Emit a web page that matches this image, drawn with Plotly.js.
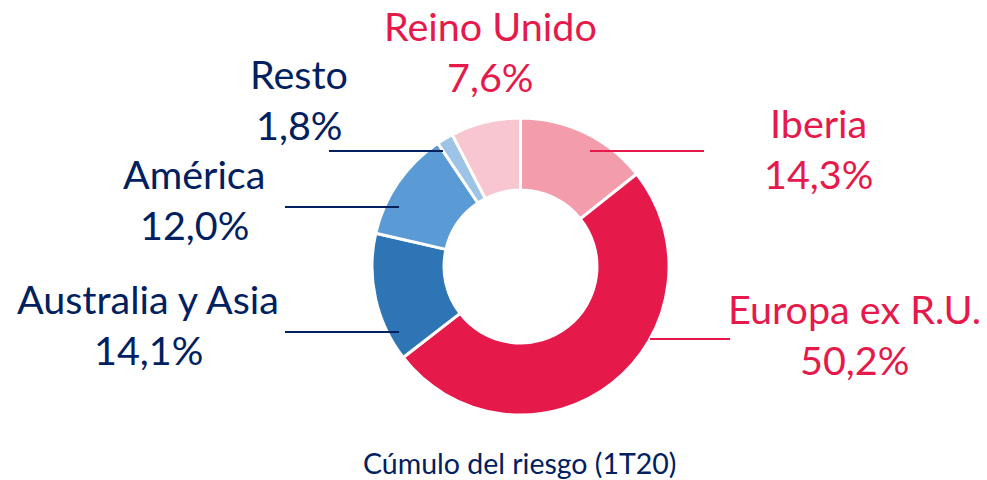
<!DOCTYPE html>
<html>
<head>
<meta charset="utf-8">
<script src="https://cdn.plot.ly/plotly-3.0.1.min.js"></script>
<style>html,body{margin:0;padding:0;background:#fff;}#chart{width:987px;height:480px;}</style>
</head>
<body>
<div id="chart"></div>
<script>
// Data
const categories = ["Iberia", "Europa ex R.U.", "Australia y Asia", "América", "Resto", "Reino Unido"];
const values = [14.3, 50.2, 14.1, 12.0, 1.8, 7.6];
const sliceColors = ["#F29CAC", "#E6194B", "#2E75B6", "#5B9BD5", "#9DC3E6", "#F8C6D1"];
const chartTitle = "Cúmulo del riesgo (1T20)";

// Label styling / placement (pixels in the 987x480 canvas)
const RED = "#E6194B", NAVY = "#002060";
const labelColors = [RED, RED, NAVY, NAVY, NAVY, RED];
const labelPos = [ // [centerX, baseline of first line]
  [818, 137], [854, 323], [148, 313], [194, 188], [299, 88], [490, 40]
];
const leaderLines = [ // [x0, x1, y]
  [590, 704, 151], [650, 730, 339], [285, 399, 332], [285, 399, 207], [329, 443, 151], null
];

const W = 987, H = 480;
const px = x => x / W, py = y => 1 - y / H;
const FS = 39.5, LINE = 50.5, TFS = 28.5;

const fmt = v => v.toFixed(1).replace(".", ",") + "%";

const annotations = [];
categories.forEach((c, i) => {
  const [cx, by] = labelPos[i];
  [c, fmt(values[i])].forEach((t, k) => {
    annotations.push({
      xref: "paper", yref: "paper",
      x: px(cx), y: py(by + k * LINE - 0.36 * FS),
      xanchor: "center", yanchor: "middle",
      text: t, showarrow: false,
      font: {family: "Lato, sans-serif", size: FS, color: labelColors[i]}
    });
  });
});
annotations.push({
  xref: "paper", yref: "paper", x: px(519), y: py(473 - 0.36 * TFS),
  xanchor: "center", yanchor: "middle", text: chartTitle, showarrow: false,
  font: {family: "Lato, sans-serif", size: TFS, color: NAVY}
});

const shapes = [];
leaderLines.forEach((l, i) => {
  if (!l) return;
  shapes.push({
    type: "line", xref: "paper", yref: "paper",
    x0: px(l[0]), x1: px(l[1]), y0: py(l[2]), y1: py(l[2]),
    line: {color: labelColors[i], width: 1.8}, layer: "above"
  });
});

const cx = 520.5, cy = 266.5, R = 148.5;
const trace = {
  type: "pie",
  labels: categories,
  values: values,
  marker: {colors: sliceColors, line: {color: "#ffffff", width: 3}},
  hole: 0.515,
  sort: false,
  direction: "clockwise",
  rotation: 0,
  textinfo: "none",
  hoverinfo: "label+percent",
  domain: {x: [px(cx - 200), px(cx + 200)], y: [py(cy + R), py(cy - R)]}
};

const layout = {
  width: W, height: H,
  margin: {l: 0, r: 0, t: 0, b: 0},
  paper_bgcolor: "#fff", plot_bgcolor: "#fff",
  showlegend: false,
  annotations: annotations,
  shapes: shapes
};

Plotly.newPlot("chart", [trace], layout, {displayModeBar: false, staticPlot: true});
</script>
</body>
</html>
